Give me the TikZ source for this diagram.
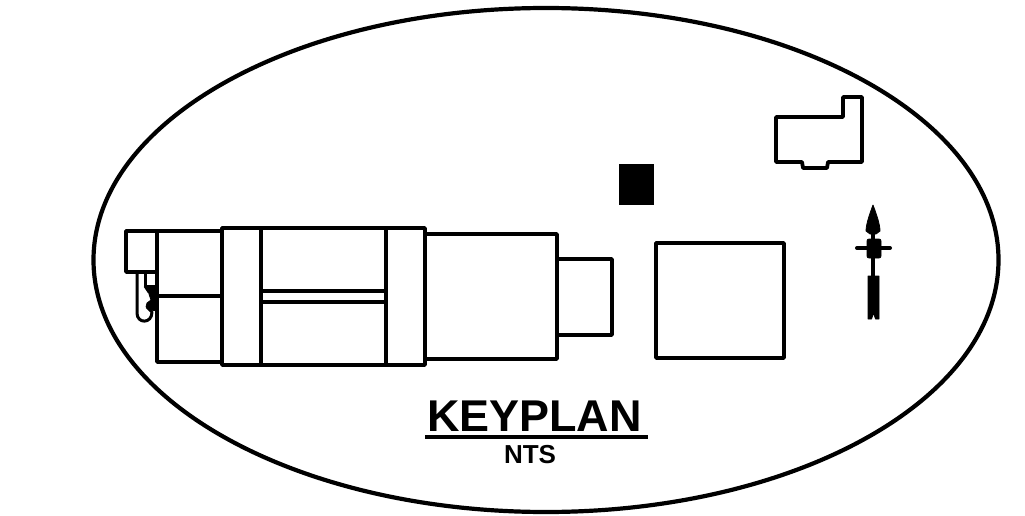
\documentclass[tikz,border=0pt]{standalone}
\usepackage{fontspec}
\setmainfont{Liberation Sans}
\begin{document}
\begin{tikzpicture}[x=1pt,y=-1pt,
  plan/.style={draw=black,line width=3.8pt,line join=round,fill=none},
  thin plan/.style={draw=black,line width=3pt,line join=round},
  solid ink/.style={fill=black,draw=black,line width=0.8pt,line join=round},
  title/.style={inner sep=0pt,anchor=base,font=\bfseries\fontsize{44.5}{44.5}\selectfont},
  subtitle/.style={inner sep=0pt,anchor=base,font=\bfseries\fontsize{26}{26}\selectfont}]
\useasboundingbox (0,0) rectangle (1025,516);
% outline
\draw[line width=4.2pt] (546,260) ellipse [x radius=452.5,y radius=252];
% left wing
\draw[plan] (126,231) rectangle (157,272);
\draw[plan] (157,231) -- (222,231);
\draw[plan] (157,272) -- (157,362) -- (222,362);
\draw[plan] (157,296) -- (222,296);
% towers
\draw[plan] (222,228) rectangle (261,365);
\draw[plan] (386,228) rectangle (425,365);
\draw[plan] (261,228) -- (386,228);
\draw[plan] (261,365) -- (386,365);
\draw[plan] (261,291) -- (386,291);
\draw[plan] (261,302) -- (386,302);
% right block and annex
\draw[plan] (425,234) -- (557,234) -- (557,359) -- (425,359);
\draw[plan] (557,259) -- (612,259) -- (612,335) -- (557,335);
% hook detail
\draw[thin plan] (137,272) -- (137,313) .. controls (137,324) and (152,324) .. (152,312) -- (147,307);
\draw[thin plan] (145,272) -- (145,286) -- (157,286);
\draw[thin plan] (145,286) -- (149,292);
\fill[solid ink] (147,287) -- (157,287) -- (157,311) -- (151,310) -- (146,307) -- (147,303) -- (151,300) -- (149,294) -- cycle;
% separate building
\draw[plan] (776,117) -- (843,117) -- (843,97) -- (862,97) -- (862,162) -- (828,162) -- (827,168) -- (803,168) -- (802,162) -- (776,162) -- cycle;
% black square
\fill[black] (619,164) rectangle (654,205);
% large square
\draw[plan] (656,243) rectangle (784,358);
% north arrow
\fill[solid ink] (873,205) .. controls (876,213) and (880,224) .. (880,231) -- (876,234) -- (870,234) -- (866,231) .. controls (866,224) and (870,213) .. (873,205) -- cycle;
\draw[line width=3.6pt] (873,233) -- (873,277);
\fill[solid ink,rounded corners=2pt] (867,239) rectangle (881,258);
\draw[line width=4pt,line cap=round] (857,248) -- (890,248);
\fill[solid ink] (868,276) -- (879,276) -- (879,319) -- (875.5,319) -- (873.5,313) -- (871.5,319) -- (868,319) -- cycle;
% labels
\node[title,xscale=1.01] (keyplan) at (534.5,431.5) {KEYPLAN};
\node[subtitle] (nts) at (530,463.5) {NTS};
\coordinate (ulL) at (425,437);
\coordinate (ulR) at (648,437);
\draw[line width=3.8pt] (ulL) -- (ulR);
\end{tikzpicture}
\end{document}
